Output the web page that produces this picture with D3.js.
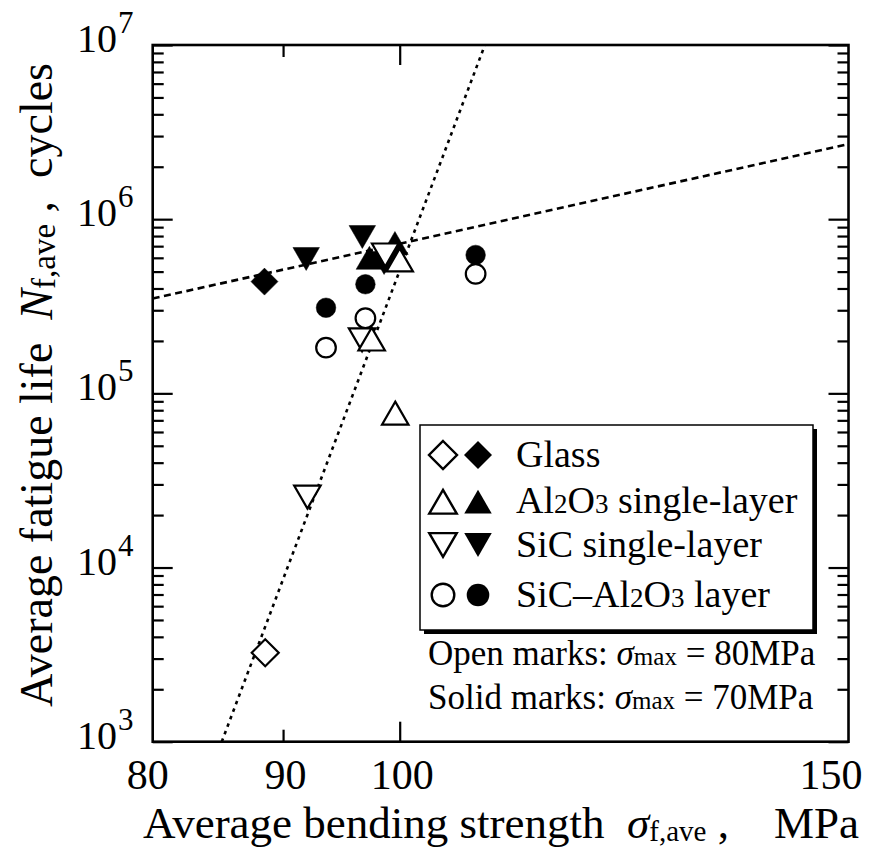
<!DOCTYPE html>
<html><head><meta charset="utf-8">
<script src="https://cdn.jsdelivr.net/npm/d3@7"></script>
<style>
html,body{margin:0;padding:0;background:#fff;}
svg text{font-family:"Liberation Serif","Times New Roman",serif;fill:#000;}
</style></head>
<body>
<svg id="chart" width="875" height="852"></svg>
<script>
// ---------------- data ----------------
const xTickValues = [80, 90, 100, 150];
const xMajorTicks = [100];
const xMinorTicks = [90];
const yExponents = [3, 4, 5, 6, 7];

const glassOpen   = [[88.56, 3240]];
const glassSolid  = [[88.5, 4.38e5]];
const al2o3Open   = [[99.6, 7.7e4], [97.5, 2.05e5], [100.0, 5.83e5]];
const al2o3Solid  = [[97.3, 6.0e5], [99.57, 7.3e5]];
const sicOpen     = [[92.0, 2.54e4], [96.66, 2.03e5], [98.7, 6.23e5]];
const sicSolid    = [[91.9, 5.91e5], [96.68, 7.9e5], [98.6, 5.6e5]];
const sicAlOpen   = [[93.56, 1.83e5], [96.95, 2.70e5], [107.1, 4.85e5]];
const sicAlSolid  = [[93.56, 3.1e5], [96.95, 4.23e5], [107.1, 6.23e5]];

const fitLineA = [[80, 3.5e5], [150, 2.7e6]];     // dashed, shallow
const fitLineB = [[85.15, 1e3], [108.0, 1e7]];    // dotted, steep

const legendLabels = ["Glass", "Al2O3 single-layer", "SiC single-layer", "SiC\u2013Al2O3 layer"];

// ---------------- layout ----------------
const L = 152.7, R = 848.5, T = 45, B = 741.7;
const svg = d3.select("#chart");
const x = d3.scaleLog().domain([80, 150]).range([L, R]);
const y = d3.scaleLog().domain([1e3, 1e7]).range([B, T]);

svg.append("defs").append("clipPath").attr("id", "clip")
  .append("rect").attr("x", L).attr("y", T).attr("width", R - L).attr("height", B - T);

// ---------------- ticks ----------------
const yMinor = [];
yExponents.slice(0, -1).forEach(e => { for (let k = 2; k <= 9; k++) yMinor.push(k * Math.pow(10, e)); });
const yMajor = yExponents.map(e => Math.pow(10, e));

function tickAxis(axisFn, scale, vals, size, tx, ty) {
  svg.append("g").attr("transform", `translate(${tx},${ty})`)
    .call(axisFn(scale).tickValues(vals).tickSize(size).tickFormat(""))
    .call(g => g.select(".domain").remove())
    .call(g => g.selectAll("line").attr("stroke", "#000").attr("stroke-width", 2.2));
}
tickAxis(d3.axisLeft, y, yMinor, -11, L, 0);
tickAxis(d3.axisLeft, y, yMajor, -20, L, 0);
tickAxis(d3.axisRight, y, yMinor, -11, R, 0);
tickAxis(d3.axisRight, y, yMajor, -20, R, 0);
tickAxis(d3.axisBottom, x, xMinorTicks, -12, 0, B);
tickAxis(d3.axisBottom, x, xMajorTicks, -20, 0, B);
tickAxis(d3.axisTop, x, xMinorTicks, -12, 0, T);
tickAxis(d3.axisTop, x, xMajorTicks, -20, 0, T);

// ---------------- fit lines ----------------
const line = d3.line().x(d => x(d[0])).y(d => y(d[1]));
const lines = svg.append("g").attr("clip-path", "url(#clip)");
lines.append("path").attr("d", line(fitLineA)).attr("fill", "none")
  .attr("stroke", "#000").attr("stroke-width", 2.6).attr("stroke-dasharray", "7,4.5");
lines.append("path").attr("d", line(fitLineB)).attr("fill", "none")
  .attr("stroke", "#000").attr("stroke-width", 2.6).attr("stroke-dasharray", "3.5,4.5");

// ---------------- symbols ----------------
const symDiamond = { draw(ctx, size) { const r = Math.sqrt(size); ctx.moveTo(0, -r); ctx.lineTo(r, 0); ctx.lineTo(0, r); ctx.lineTo(-r, 0); ctx.closePath(); } };
const symUp = { draw(ctx, size) { const w = Math.sqrt(size), h = w * 0.866; ctx.moveTo(0, -h / 2); ctx.lineTo(w / 2, h / 2); ctx.lineTo(-w / 2, h / 2); ctx.closePath(); } };
const symDown = { draw(ctx, size) { const w = Math.sqrt(size), h = w * 0.866; ctx.moveTo(0, h / 2); ctx.lineTo(w / 2, -h / 2); ctx.lineTo(-w / 2, -h / 2); ctx.closePath(); } };
const symCircle = { draw(ctx, size) { const r = Math.sqrt(size); ctx.moveTo(r, 0); ctx.arc(0, 0, r, 0, 2 * Math.PI); } };

const plotSizes = { diamond: 13.5 * 13.5, up: 26.5 * 26.5, down: 26.5 * 26.5, circle: 9.8 * 9.8 };
const types = { diamond: symDiamond, up: symUp, down: symDown, circle: symCircle };

const pts = svg.append("g");
function drawSeries(data, kind, open) {
  pts.selectAll(null).data(data).enter().append("path")
    .attr("d", d3.symbol(types[kind], plotSizes[kind]))
    .attr("transform", d => `translate(${x(d[0])},${y(d[1])})`)
    .attr("fill", open ? "#fff" : "#000")
    .attr("stroke", "#000")
    .attr("stroke-width", open ? 2.2 : 0.5)
    .attr("stroke-linejoin", "miter");
}
drawSeries(glassSolid, "diamond", false);
drawSeries(sicAlSolid, "circle", false);
drawSeries(sicSolid, "down", false);
drawSeries(al2o3Solid, "up", false);
drawSeries(glassOpen, "diamond", true);
drawSeries(sicAlOpen, "circle", true);
drawSeries(sicOpen, "down", true);
drawSeries(al2o3Open, "up", true);

// ---------------- frame ----------------
svg.append("rect").attr("x", L).attr("y", T).attr("width", R - L).attr("height", B - T)
  .attr("fill", "none").attr("stroke", "#000").attr("stroke-width", 2.6);

// ---------------- tick labels ----------------
xTickValues.forEach((v, i) => {
  const last = i === xTickValues.length - 1;
  const first = i === 0;
  const px = last ? R + 14 : (first ? x(v) - 5 : x(v) + 2.5);
  svg.append("text").attr("x", px).attr("y", 789)
    .attr("text-anchor", last ? "end" : "middle").attr("font-size", 42).text(v);
});
yExponents.forEach(e => {
  const ty = y(Math.pow(10, e));
  svg.append("text").attr("x", 117).attr("y", ty + 7).attr("text-anchor", "end").attr("font-size", 40).text("10");
  svg.append("text").attr("x", 118).attr("y", ty - 12).attr("font-size", 31).text(e);
});

// ---------------- axis titles ----------------
const xt = svg.append("text").attr("x", 143).attr("y", 838).attr("font-size", 45);
xt.append("tspan").text("Average bending strength\u00a0\u00a0");
xt.append("tspan").attr("font-style", "italic").text("\u03c3");
xt.append("tspan").attr("font-size", 29).attr("dy", 3).text("f,ave");
xt.append("tspan").attr("dy", -3).text("\u00a0,\u00a0\u00a0\u00a0\u00a0MPa");

const ytG = svg.append("g").attr("transform", `translate(52,385) rotate(-90)`);
const yt = ytG.append("text").attr("text-anchor", "middle").attr("font-size", 46);
yt.append("tspan").text("Average fatigue life\u00a0\u00a0");
yt.append("tspan").attr("font-style", "italic").text("N");
yt.append("tspan").attr("font-size", 33).attr("dy", 3).text("f,ave");
yt.append("tspan").attr("dy", -3).text("\u00a0,\u00a0\u00a0cycles");

// ---------------- legend ----------------
const lg = svg.append("g");
lg.append("rect").attr("x", 424).attr("y", 429).attr("width", 393).attr("height", 205).attr("fill", "#000");
lg.append("rect").attr("x", 420).attr("y", 425).attr("width", 393).attr("height", 205)
  .attr("fill", "#fff").attr("stroke", "#000").attr("stroke-width", 1.5);

const legendKinds = ["diamond", "up", "down", "circle"];
const legendRowY = [455, 501.7, 545, 595];
const legendSizes = { diamond: 14 * 14, up: 27.5 * 27.5, down: 27.5 * 27.5, circle: 11.3 * 11.3 };
legendKinds.forEach((k, i) => {
  lg.append("path").attr("d", d3.symbol(types[k], legendSizes[k])).attr("transform", `translate(443,${legendRowY[i]})`)
    .attr("fill", "#fff").attr("stroke", "#000").attr("stroke-width", 2.4);
  lg.append("path").attr("d", d3.symbol(types[k], legendSizes[k])).attr("transform", `translate(478,${legendRowY[i]})`)
    .attr("fill", "#000");
  const t = lg.append("text").attr("x", 516).attr("y", legendRowY[i] + 11.7).attr("font-size", 38);
  const parts = legendLabels[i].split(/(\d)/);
  parts.forEach(p => {
    if (/^\d$/.test(p)) t.append("tspan").attr("font-size", 27).text(p);
    else if (p.length) t.append("tspan").attr("font-size", 38).text(p);
  });
});

// ---------------- footnotes ----------------
function footnote(py, label, val) {
  const t = svg.append("text").attr("x", 428).attr("y", py).attr("font-size", 35);
  t.append("tspan").text(label + ":\u00a0");
  t.append("tspan").attr("font-style", "italic").text("\u03c3");
  t.append("tspan").attr("font-size", 25).text("max");
  t.append("tspan").text("\u00a0=\u00a0" + val + "MPa");
}
footnote(665, "Open marks", 80);
footnote(709, "Solid marks", 70);
</script>
</body></html>
